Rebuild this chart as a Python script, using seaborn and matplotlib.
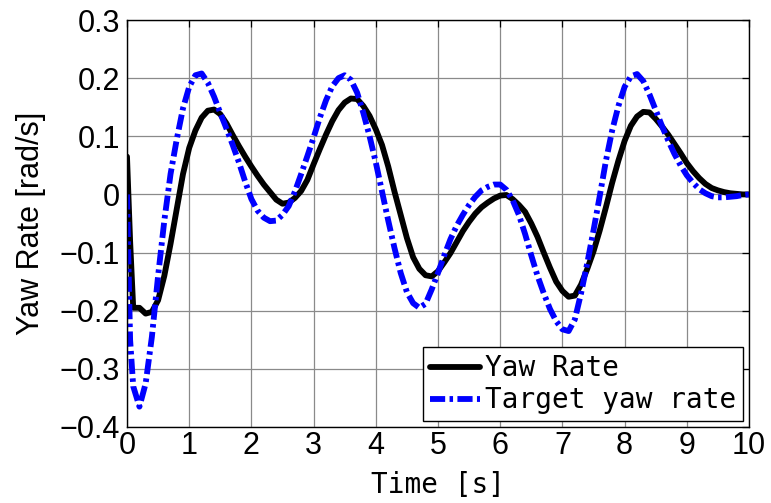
import numpy as np
import pandas as pd
import matplotlib
matplotlib.use("Agg")
import matplotlib.pyplot as plt
import seaborn as sns
from matplotlib.ticker import FuncFormatter

time_s = [0.0, 0.05, 0.1, 0.2, 0.3, 0.4, 0.5, 0.6, 0.7, 0.8, 0.9,
          1.0, 1.1, 1.2, 1.3, 1.4, 1.5, 1.6, 1.7, 1.8, 1.9,
          2.0, 2.1, 2.2, 2.3, 2.4, 2.5, 2.6, 2.7, 2.8, 2.9,
          3.0, 3.1, 3.2, 3.3, 3.4, 3.5, 3.6, 3.7, 3.8, 3.9,
          4.0, 4.1, 4.2, 4.3, 4.4, 4.5, 4.6, 4.7, 4.8, 4.9,
          5.0, 5.1, 5.2, 5.3, 5.4, 5.5, 5.6, 5.7, 5.8, 5.9,
          6.0, 6.1, 6.2, 6.3, 6.4, 6.5, 6.6, 6.7, 6.8, 6.9,
          7.0, 7.1, 7.2, 7.3, 7.4, 7.5, 7.6, 7.7, 7.8, 7.9,
          8.0, 8.1, 8.2, 8.3, 8.4, 8.5, 8.6, 8.7, 8.8, 8.9,
          9.0, 9.1, 9.2, 9.3, 9.4, 9.5, 9.6, 9.7, 9.8, 9.9, 10.0]

yaw_rate = [0.065, -0.08, -0.195, -0.195, -0.205, -0.202, -0.182, -0.140, -0.085, -0.025, 0.035,
            0.080, 0.110, 0.132, 0.144, 0.146, 0.138, 0.122, 0.102, 0.083, 0.065,
            0.048, 0.032, 0.017, 0.004, -0.009, -0.016, -0.014, -0.006, 0.006, 0.025,
            0.052, 0.078, 0.103, 0.126, 0.145, 0.158, 0.165, 0.164, 0.152, 0.135,
            0.112, 0.085, 0.048, 0.005, -0.035, -0.075, -0.108, -0.128, -0.139, -0.141,
            -0.132, -0.117, -0.101, -0.082, -0.063, -0.047, -0.033, -0.022, -0.014, -0.007,
            -0.002, -0.001, -0.008, -0.018, -0.030, -0.050, -0.073, -0.100, -0.126, -0.150,
            -0.166, -0.176, -0.174, -0.155, -0.128, -0.098, -0.062, -0.022, 0.020, 0.058,
            0.092, 0.118, 0.134, 0.142, 0.141, 0.130, 0.117, 0.103, 0.087, 0.071,
            0.054, 0.040, 0.028, 0.018, 0.011, 0.007, 0.004, 0.002, 0.001, 0.000, 0.000]

target_yaw_rate = [0.0, -0.25, -0.33, -0.365, -0.325, -0.245, -0.140, -0.045, 0.035, 0.095, 0.148,
                   0.185, 0.205, 0.208, 0.192, 0.168, 0.140, 0.113, 0.085, 0.055, 0.022,
                   -0.008, -0.028, -0.040, -0.046, -0.045, -0.035, -0.020, 0.005, 0.035, 0.066,
                   0.098, 0.132, 0.162, 0.186, 0.200, 0.205, 0.197, 0.175, 0.140, 0.100,
                   0.055, 0.005, -0.045, -0.092, -0.135, -0.168, -0.187, -0.195, -0.188, -0.163,
                   -0.135, -0.105, -0.077, -0.054, -0.035, -0.018, -0.004, 0.007, 0.013, 0.017,
                   0.017, 0.008, -0.010, -0.035, -0.068, -0.105, -0.140, -0.170, -0.197, -0.218,
                   -0.232, -0.235, -0.215, -0.170, -0.118, -0.062, -0.003, 0.058, 0.110, 0.152,
                   0.185, 0.203, 0.207, 0.195, 0.172, 0.145, 0.118, 0.093, 0.070, 0.050,
                   0.033, 0.020, 0.009, 0.002, -0.003, -0.005, -0.005, -0.004, -0.003, -0.001, 0.0]

series_names = ["Yaw Rate", "Target yaw rate"]
x_ticks = [0, 1, 2, 3, 4, 5, 6, 7, 8, 9, 10]
y_ticks = [-0.4, -0.3, -0.2, -0.1, 0, 0.1, 0.2, 0.3]

df = pd.DataFrame({
    "Time": time_s * 2,
    "Value": yaw_rate + target_yaw_rate,
    "Series": [series_names[0]] * len(time_s) + [series_names[1]] * len(time_s),
})

sns.set_style("white")
plt.rcParams["font.family"] = ["Liberation Sans", "DejaVu Sans"]
plt.rcParams["text.color"] = "black"
plt.rcParams["axes.labelcolor"] = "black"

LW = 4.2
DASH = (2.6, 0.75, 0.6, 0.75)
sans = ["Liberation Sans", "DejaVu Sans"]
mono = ["DejaVu Sans Mono", "DejaVu Sans"]

fig = plt.figure(figsize=(7.71, 5.03), dpi=100)
ax = fig.add_axes([127 / 771, 1 - 427 / 503, (749 - 127) / 771, (427 - 20) / 503])

sns.lineplot(data=df, x="Time", y="Value", hue="Series", style="Series",
             palette={series_names[0]: "black", series_names[1]: "#0000ff"},
             dashes={series_names[0]: "", series_names[1]: DASH},
             linewidth=LW, ax=ax, sort=False, estimator=None, legend=False)

ax.set_xlim(0, 10)
ax.set_ylim(-0.4, 0.3)
ax.set_xticks(x_ticks)
ax.set_yticks(y_ticks)
fmt = FuncFormatter(lambda v, p: ("%g" % round(v, 2)).replace("-", "\u2212"))
ax.xaxis.set_major_formatter(fmt)
ax.yaxis.set_major_formatter(fmt)
ax.grid(True, color="#8a8a8a", linewidth=0.9, linestyle="-")
ax.set_axisbelow(True)
ax.tick_params(direction="in", length=5, width=0.9, top=True, right=True,
               labelsize=22, colors="black")
ax.tick_params(axis="x", pad=3)
ax.tick_params(axis="y", pad=5)
for lab in ax.get_xticklabels() + ax.get_yticklabels():
    lab.set_family(sans)
for sp in ax.spines.values():
    sp.set_visible(True)
    sp.set_color("black")
    sp.set_linewidth(1.0)

ax.set_ylabel("Yaw Rate [rad/s]", fontsize=22, labelpad=10, family=sans, color="black")
ax.set_xlabel("Time [s]", fontsize=20, labelpad=7, family=mono, color="black")

handles = [plt.Line2D([], [], color="black", lw=LW),
           plt.Line2D([], [], color="#0000ff", lw=LW, dashes=DASH)]
leg = ax.legend(handles, series_names, loc="lower right", frameon=True, fancybox=False,
                borderaxespad=0.2, handlelength=1.8, handletextpad=0.2,
                labelspacing=0.15, borderpad=0.25,
                prop={"family": mono, "size": 20})
leg.get_frame().set_edgecolor("black")
leg.get_frame().set_linewidth(1.0)
leg.get_frame().set_alpha(1)
for t in leg.get_texts():
    t.set_color("black")

fig.savefig("out.png", dpi=100)
